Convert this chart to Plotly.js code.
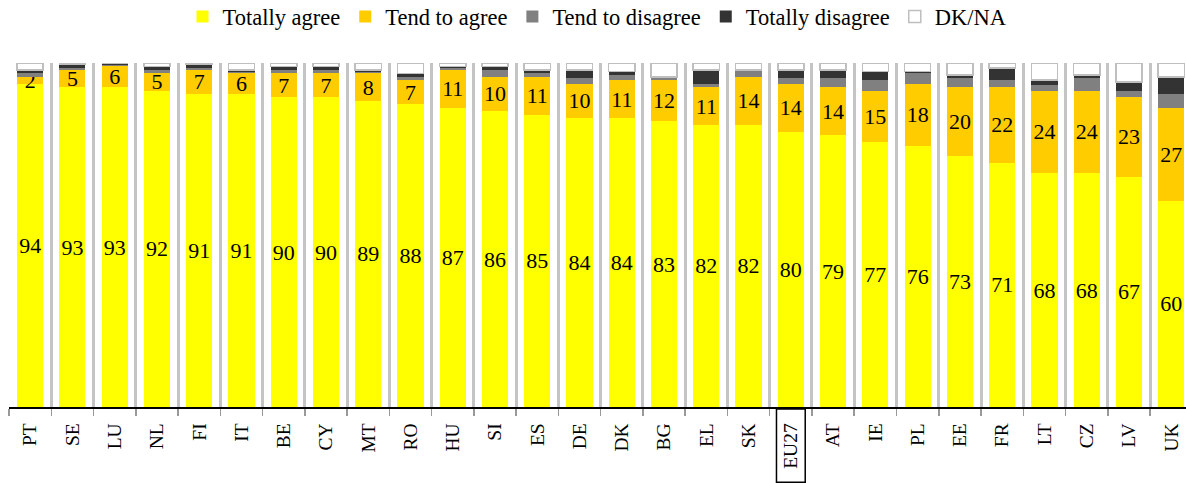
<!DOCTYPE html>
<html>
<head>
<meta charset="utf-8">
<script src="https://cdn.plot.ly/plotly-3.0.1.min.js"></script>
<style>html,body{margin:0;padding:0;background:#fff;}#chart{width:1186px;height:483px;}</style>
</head>
<body>
<div id="chart"></div>
<script>
const countries = ["PT","SE","LU","NL","FI","IT","BE","CY","MT","RO","HU","SI","ES","DE","DK","BG","EL","SK","EU27","AT","IE","PL","EE","FR","LT","CZ","LV","UK"];
const totallyAgree    = [94,93,93,92,91,91,90,90,89,88,87,86,85,84,84,83,82,82,80,79,77,76,73,71,68,68,67,60];
const tendToAgree     = [2,5,6,5,7,6,7,7,8,7,11,10,11,10,11,12,11,14,14,14,15,18,20,22,24,24,23,27];
const tendToDisagree  = [1,0.5,0.5,1,0.5,0.5,1,1,0.5,1,0.5,2,1,1.5,1.5,0.5,1,2,1.5,2.5,3,3,2.5,2,1.5,3.5,2,4];
const totallyDisagree = [1,1,0.5,1,1,0.5,1,1,0.5,1,0.5,1,1,2.5,1,0.5,4,0,2.5,2.5,2.5,0.5,1,3.5,1.5,1,2.5,5];
const dkNa            = [2,0.5,0,1,0.5,2,1,1,2,3,1,1,2,2,2.5,4,2,2,2,2,2.5,2.5,3.5,1.5,5,3.5,5.5,4];

const serif = "'Liberation Serif', 'DejaVu Serif', serif";

function seg(name, vals, color, showText, lineColor, lineWidth) {
  return {
    type: 'bar',
    name: name,
    x: countries,
    y: vals,
    marker: {color: color, line: {color: lineColor || color, width: lineWidth || 0}},
    text: showText ? vals.map(v => String(v)) : undefined,
    texttemplate: showText ? '%{text}' : undefined,
    textposition: showText ? 'inside' : 'none',
    insidetextanchor: 'middle',
    textangle: 0,
    constraintext: 'none',
    insidetextfont: {family: serif, size: 22, color: '#000'},
    hoverinfo: 'x+y+name'
  };
}

const data = [
  seg('Totally agree', totallyAgree, '#FFFF00', true),
  seg('Tend to agree', tendToAgree, '#FFCC00', true),
  seg('Tend to disagree', tendToDisagree, '#808080', false),
  seg('Totally disagree', totallyDisagree, '#333333', false),
  seg('DK/NA', dkNa, '#FFFFFF', false, '#BFBFBF', 1.5)
];

const euIdx = countries.indexOf('EU27');

const layout = {
  width: 1186, height: 483,
  margin: {l: 9, r: 0, t: 63, b: 76, autoexpand: false},
  barmode: 'stack',
  bargap: 0.38,
  paper_bgcolor: '#fff',
  plot_bgcolor: '#fff',
  showlegend: true,
  legend: {
    orientation: 'h', x: 0.5, xanchor: 'center',
    yref: 'container', y: 0.965, yanchor: 'middle',
    font: {family: serif, size: 22.5, color: '#000'},
    traceorder: 'normal', itemwidth: 30
  },
  xaxis: {
    type: 'category',
    range: [-0.5, 27.35],
    tickson: 'boundaries',
    showgrid: true, gridcolor: '#C4C4C4', gridwidth: 3,
    ticks: 'outside', ticklen: 7, tickcolor: '#999', tickwidth: 1.5,
    showline: true, linecolor: '#000', linewidth: 1.5,
    tickangle: -90,
    ticklabelstandoff: 7,
    tickfont: {family: serif, size: 19.5, color: '#000'},
    automargin: false,
    fixedrange: true
  },
  yaxis: {
    range: [0, 100],
    visible: false,
    showgrid: false, zeroline: false,
    fixedrange: true
  },
  shapes: [{
    type: 'rect', xref: 'x', yref: 'paper',
    x0: euIdx - 0.34, x1: euIdx + 0.34, y0: -0.006, y1: -0.219,
    line: {color: '#000', width: 1.5}, fillcolor: 'rgba(0,0,0,0)'
  }]
};

Plotly.newPlot('chart', data, layout, {displayModeBar: false, staticPlot: true});
</script>
</body>
</html>
